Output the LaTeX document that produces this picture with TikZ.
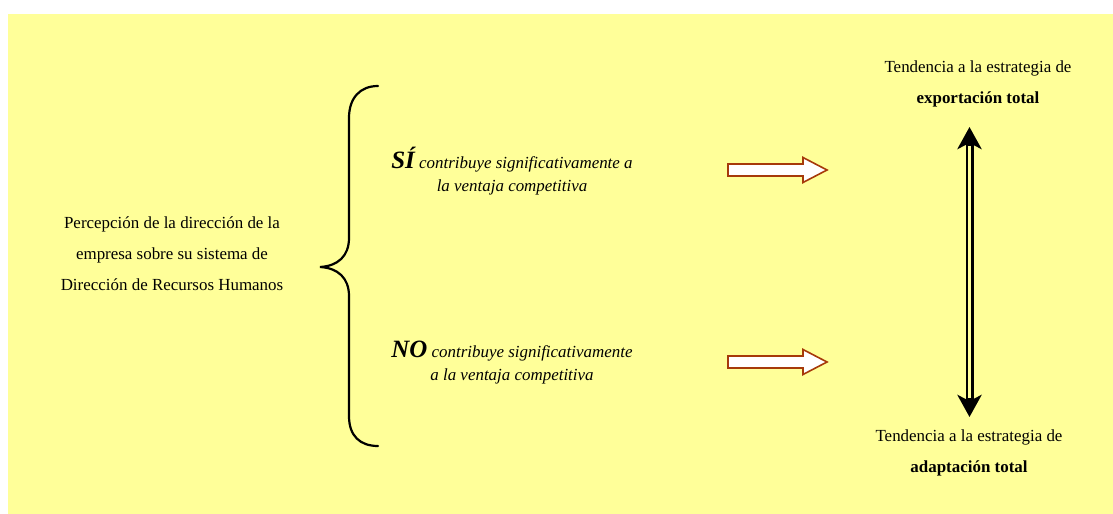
\documentclass[tikz,border=0pt]{standalone}
\usepackage{fontspec}
\setmainfont{Liberation Serif}
\usetikzlibrary{arrows.meta}
\definecolor{bgyellow}{HTML}{FFFF99}
\definecolor{arrowbrown}{HTML}{A63A0A}
\tikzset{
  txt/.style={font=\fontsize{17}{31}\selectfont, align=center, inner sep=0pt},
  itxt/.style={font=\fontsize{17}{23}\selectfont\itshape, align=center, inner sep=0pt},
  blockarrow/.style={fill=white, draw=arrowbrown, line width=1.6bp, line join=miter},
  bracestyle/.style={line width=2.2bp, line cap=round}
}
\begin{document}
\begin{tikzpicture}[x=1bp,y=-1bp]
\useasboundingbox (0,0) rectangle (1113,514);
\fill[bgyellow] (8,14) rectangle (1113,514);

% left text
\node[txt] (perc) at (172,254) {Percepción de la dirección de la\\empresa sobre su sistema de\\Dirección de Recursos Humanos};

% brace
\draw[bracestyle] (378,86) .. controls (360,86) and (349,98) .. (349,118)
  -- (349,238) .. controls (349,256) and (338,266) .. (320,267)
  .. controls (338,268) and (349,278) .. (349,296)
  -- (349,416) .. controls (349,436) and (360,446) .. (378,446);

% middle texts
\node[itxt] (si) at (512,171) {{\fontsize{25}{23}\selectfont\bfseries SÍ} contribuye significativamente a\\la ventaja competitiva};
\node[itxt] (no) at (512,363) {{\fontsize{25}{23}\selectfont\bfseries NO} contribuye significativamente\\a la ventaja competitiva};

% block arrows
\draw[blockarrow] (728,164) -- (803,164) -- (803,157.5) -- (827,170) -- (803,182.5) -- (803,176) -- (728,176) -- cycle;
\draw[blockarrow] (728,356) -- (803,356) -- (803,349.5) -- (827,362) -- (803,374.5) -- (803,368) -- (728,368) -- cycle;

% right texts
\node[txt] (exp) at (978,84) {Tendencia a la estrategia de\\\textbf{exportación total}};
\node[txt] (ada) at (969,453) {Tendencia a la estrategia de\\\textbf{adaptación total}};

% double arrow
\coordinate (dtop) at (969.5,127);
\coordinate (dbot) at (969.5,417);
\draw[line width=8bp, {Stealth[length=22bp,width=24bp,inset=6bp]}-{Stealth[length=22bp,width=24bp,inset=6bp]}] (dtop) -- (dbot);
\draw[line width=3.2bp, bgyellow, shorten <=19bp, shorten >=19bp] (dtop) -- (dbot);
\end{tikzpicture}
\end{document}
